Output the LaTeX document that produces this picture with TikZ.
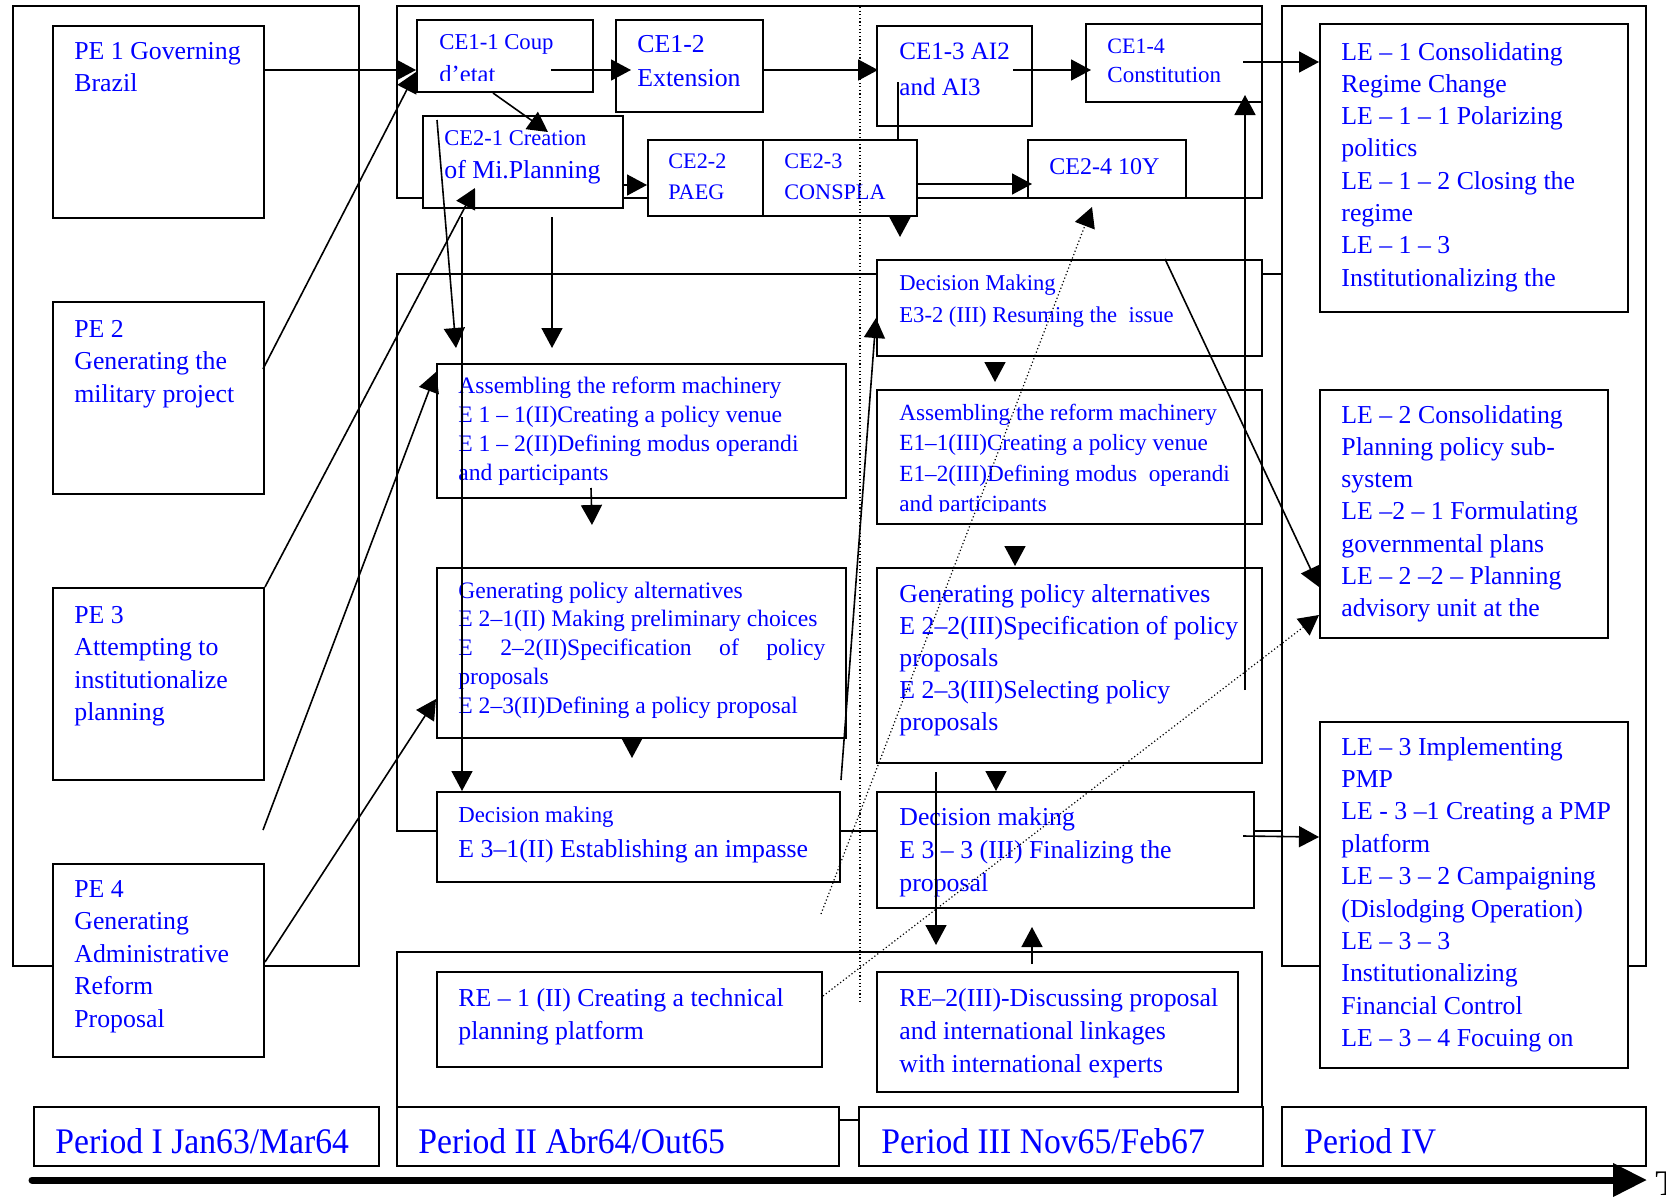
\documentclass[tikz,border=0pt]{standalone}
\usepackage{fontspec}
\usepackage{graphicx}
\setmainfont{Liberation Serif}
\usetikzlibrary{arrows.meta,fit,calc}

% font size + baseline skip
\newcommand\fs[2]{\fontsize{#1}{#2}\selectfont}
% stacked lines, baseline = first line
\newcommand\lns[1]{\begin{tabular}[t]{@{}l@{}}#1\end{tabular}}
% box node spanning two corners
\newcommand\bx[5]{\node[box,fit={(#2,#3) (#4,#5)}] (#1) {};}

\begin{document}
\begin{tikzpicture}[x=0.5pt,y=-0.5pt,
  frame/.style={draw=black,line width=1pt},
  box/.style={draw=black,fill=white,line width=1pt,inner sep=0pt},
  txt/.style={anchor=base west,inner sep=0pt,text=blue},
  conn/.style={line width=0.8pt},
  arr/.style={conn,-{Triangle[length=10pt,width=10.5pt]}},
  dots/.style={line width=0.6pt,dash pattern=on 0.6pt off 1.2pt},
  darr/.style={dots,-{Triangle[length=10pt,width=10.5pt]}},
  big/.style={font=\fs{12.9}{16.3}},
]
\fill[white] (0,0) rectangle (1666,1199);
\clip (0,0) rectangle (1666,1199);

% ---------- period frames ----------
\draw[frame] (13,6) rectangle (359,966);      % period I
\draw[frame] (397,6) rectangle (1262,198);    % constitutional events
\draw[frame] (397,274) rectangle (1282,831);  % policy events
\draw[frame] (397,952) rectangle (1262,1120); % related events
\draw[frame] (1282,6) rectangle (1646,966);   % period IV

% ---------- boxes ----------
\bx{pe1}{53}{26}{264}{218}
\bx{pe2}{53}{302}{264}{494}
\bx{pe3}{53}{588}{264}{780}
\bx{pe4}{53}{864}{264}{1057}
\bx{ce11}{417}{20}{593}{92}
\bx{ce12}{616}{20}{763}{112}
\bx{ce13}{877}{26}{1032}{126}
\bx{ce14}{1086}{24}{1262}{102}
\bx{ce21}{423}{116}{623}{208}
\bx{ce22}{648}{140}{763}{216}
\bx{ce23}{763}{140}{917}{216}
\bx{ce24}{1028}{140}{1186}{198}
\bx{e1ii}{437}{364}{846}{498}
\bx{e2ii}{437}{568}{846}{738}
\bx{e3ii}{437}{792}{840}{882}
\bx{e32}{877}{260}{1262}{356}
\bx{e1iii}{877}{390}{1262}{524}
\bx{e2iii}{877}{568}{1262}{763}
\bx{e33}{877}{792}{1254}{908}
\bx{re1}{437}{972}{822}{1067}
\bx{re2}{877}{972}{1238}{1092}
\bx{le1}{1320}{24}{1628}{312}
\bx{le2}{1320}{390}{1608}{638}
\bx{le3}{1320}{722}{1628}{1068}
\bx{per1}{34}{1107}{379}{1166}
\bx{per2}{397}{1107}{839}{1166}
\bx{per3}{859}{1107}{1263}{1166}
\bx{per4}{1282}{1107}{1646}{1166}

% ---------- texts ----------
\node[txt,big] (pe1t) at (74,59) {\lns{PE 1 Governing\\Brazil}};
\node[txt,big] (pe2t) at (74,337) {\lns{PE 2\\Generating the\\military project}};
\node[txt,big] (pe3t) at (74,623) {\lns{PE 3\\Attempting to\\institutionalize\\planning}};
\node[txt,big] (pe4t) at (74,897) {\lns{PE 4\\Generating\\Administrative\\Reform\\Proposal}};

\begin{scope}
  \clip (ce11.north west) rectangle (ce11.east |- 0,80.5);
  \node[txt,font=\fs{11.35}{16.5}] (ce11t) at (439,49) {\lns{CE1-1 Coup\\{\fs{12.3}{16.5}d’etat}}};
\end{scope}
\node[txt,font=\fs{12.9}{17}] (ce12t) at (637,53) {\lns{CE1-2\\Extension}};
\node[txt,font=\fs{12.5}{18}] (ce13t) at (899,59) {\lns{CE1-3 AI2\\and AI3}};
\node[txt,font=\fs{11.5}{14.5}] (ce14t) at (1107,54) {\lns{{\fs{11}{14.5}CE1-4}\\Constitution}};
\node[txt,font=\fs{12.9}{16.5}] (ce21t) at (444,145) {\lns{{\fs{11.25}{16.5}CE2-1 Creation}\\of Mi.Planning}};
\node[txt,font=\fs{11.1}{15.5}] (ce22t) at (668,168) {\lns{CE2-2\\PAEG}};
\node[txt,font=\fs{11.1}{15.5}] (ce23t) at (784,168) {\lns{CE2-3\\CONSPLA}};
\node[txt,font=\fs{12}{15}] (ce24t) at (1049,174) {CE2-4 10Y};

\node[txt,font=\fs{11.8}{14.5}] (e1iit) at (458,393) {\lns{Assembling the reform machinery\\E 1 – 1(II)Creating a policy venue\\E 1 – 2(II)Defining modus operandi\\and participants}};
\node[txt,font=\fs{11.8}{14.4}] (e2iit) at (458,598) {\lns{Generating policy alternatives\\E 2–1(II) Making preliminary choices\\\makebox[183.5pt][s]{E 2–2(II)Specification of policy}\\proposals\\E 2–3(II)Defining a policy proposal}};
\node[txt,font=\fs{12.9}{17.5}] (e3iit) at (458,822) {\lns{{\fs{11.4}{17.5}Decision making}\\E 3–1(II) Establishing an impasse}};

\node[txt,font=\fs{11.3}{16}] (e32t) at (899,290) {\lns{Decision Making\\E3-2 (III) Resuming the\ \ issue}};
\begin{scope}
  \clip (e1iii.north west) rectangle (e1iii.east |- 0,511);
  \node[txt,font=\fs{11.6}{15.3}] (e1iiit) at (899,420) {\lns{Assembling the reform machinery\\E1–1(III)Creating a policy venue\\E1–2(III)Defining modus\ \ operandi\\and participants}};
\end{scope}
\node[txt,font=\fs{12.9}{16}] (e2iiit) at (899,602) {\lns{Generating policy alternatives\\E 2–2(III)Specification of policy\\proposals\\E 2–3(III)Selecting policy\\proposals}};
\node[txt,font=\fs{12.9}{16.5}] (e33t) at (899,825) {\lns{Decision making\\E 3 – 3 (III) Finalizing the\\proposal}};

\node[txt,font=\fs{12.9}{16.5}] (re1t) at (458,1006) {\lns{RE – 1 (II) Creating a technical\\planning platform}};
\node[txt,font=\fs{12.9}{16.5}] (re2t) at (899,1006) {\lns{RE–2(III)-Discussing proposal\\and international linkages\\with international experts}};

\node[txt,font=\fs{12.9}{16.15}] (le1t) at (1341,60) {\lns{LE – 1 Consolidating\\Regime Change\\LE – 1 – 1 Polarizing\\politics\\LE – 1 – 2 Closing the\\regime\\LE – 1 – 3\\Institutionalizing the}};
\node[txt,font=\fs{12.9}{16.15}] (le2t) at (1341,423) {\lns{LE – 2 Consolidating\\Planning policy sub-\\system\\LE –2 – 1 Formulating\\governmental plans\\LE – 2 –2 – Planning\\advisory unit at the}};
\node[txt,font=\fs{12.9}{16.2}] (le3t) at (1341,755) {\lns{LE – 3 Implementing\\PMP\\LE - 3 –1 Creating a PMP\\platform\\LE – 3 – 2 Campaigning\\(Dislodging Operation)\\LE – 3 – 3\\Institutionalizing\\Financial Control\\LE – 3 – 4 Focuing on}};

\node[txt,font=\fs{18}{20}] (per1t) at (55,1153) {\scalebox{0.935}[1]{Period I Jan63/Mar64}};
\node[txt,font=\fs{18}{20}] (per2t) at (418,1153) {\scalebox{0.935}[1]{Period II Abr64/Out65}};
\node[txt,font=\fs{18}{20}] (per3t) at (881,1153) {\scalebox{0.935}[1]{Period III Nov65/Feb67}};
\node[txt,font=\fs{18}{20}] (per4t) at (1304,1153) {\scalebox{0.935}[1]{Period IV}};
\node[anchor=base west,inner sep=0pt,text=black,font=\fs{18}{20}] (taxis) at (1655,1195) {T};

% ---------- free ends of connectors ----------
\coordinate (pe2out) at (263,369);
\coordinate (loose) at (263,830);
\coordinate (ce11in) at (551,70);
\coordinate (ce11low) at (493,93);
\coordinate (ce21tip) at (548,132);
\coordinate (ce21up) at (475,188);
\coordinate (ce21in) at (437,120);
\coordinate (ce21a) at (462,217);
\coordinate (ce21b) at (552,217);
\coordinate (ce13in) at (1013,70);
\coordinate (ce13low) at (898,82);
\coordinate (ce14in) at (1243,62);
\coordinate (ce14low) at (1245,95);
\coordinate (e2iiiin) at (1245,690);
\coordinate (e33in) at (1243,836);
\coordinate (e33top) at (936,772);
\coordinate (rearrow) at (936,945);
\coordinate (re2top) at (1032,964);
\coordinate (re2tip) at (1032,927);
\coordinate (dotstart) at (821,914);
\coordinate (dotend) at (1092,207);
\coordinate (tl0) at (32,1180);
\coordinate (tl1) at (1647,1180);

% ---------- connectors ----------
\draw[dots] (860,7) -- (860,1001);

\draw[arr] (pe1.east |- 0,70) -- (ce11.west |- 0,70);
\draw[arr] (pe2out) -- (ce11.west |- 0,72);
\draw[arr] (pe3.north east) -- (ce21up);
\draw[arr] (loose) -- (e1ii.west |- 0,372);
\draw[arr] (pe4.east |- 0,962) -- (e2ii.west |- 0,699);

\draw[arr] (ce11in) -- (631,70);
\draw[arr] (ce12.east |- 0,70) -- (878,70);
\draw[arr] (ce13in) -- (1091,70);
\draw[arr] (ce14in) -- (le1.west |- 0,62);
\draw[arr] (ce11low) -- (ce21tip);
\draw[arr] (ce21in) -- (456,348);
\draw[arr] (ce21a) -- (e3ii.north -| 462,0);
\draw[arr] (ce21b) -- (552,348);
\draw[arr] (ce21.east |- 0,185) -- (ce22.west |- 0,185);
\draw[arr] (ce23.east |- 0,184) -- (1032,184);
\draw[conn] (ce13low) -- (ce23.north -| 898,0);
\draw[arr] (ce23.south -| 900,0) -- (900,237);

\draw[arr] (e1ii.south -| 591,0) ++(0,-11) -- (592,525);
\draw[arr] (e2ii.south -| 632,0) -- (632,758);
\draw[arr] (e3ii.north east) ++(0,-11) -- (e32.west |- 0,318);
\draw[arr] (e32.north -| 1165,0) -- (le2.west |- 0,587);
\draw[arr,shorten <=3pt] (e32.south -| 995,0) -- (995,382);
\draw[arr,shorten <=11pt] (e1iii.south -| 1015,0) -- (1015,566);
\draw[arr,shorten <=4.5pt] (e2iii.south -| 996,0) -- (e33.north -| 996,0);
\draw[arr] (e33top) -- (rearrow);
\draw[arr] (re2top) -- (re2tip);
\draw[arr] (e2iiiin) -- (ce14low);
\draw[arr] (e33in) -- (le3.west |- 0,837);

\draw[darr] (dotstart) -- (dotend);
\draw[darr] (re1.east |- 0,996) -- (le2.west |- 0,615);

\draw[line width=3.5pt,line cap=round,-{Triangle[length=17pt,width=16pt]}] (tl0) -- (tl1);
\end{tikzpicture}
\end{document}
